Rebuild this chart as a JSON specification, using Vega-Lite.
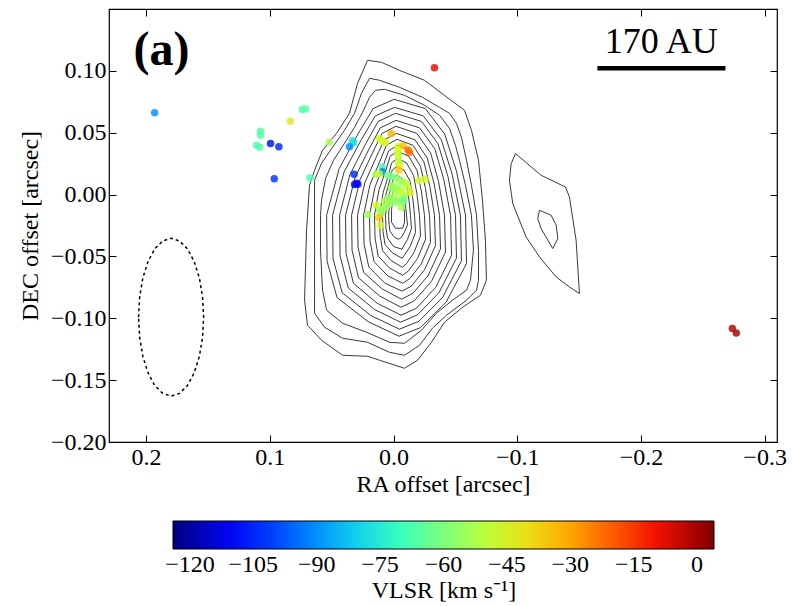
{
"$schema":"https://vega.github.io/schema/vega-lite/v6.json",
"width":668,"height":433,
"autosize":{"type":"none"},
"padding":{"left":109,"top":9,"right":15,"bottom":164},
"background":"white",
"config":{
"view":{"stroke":"black","strokeWidth":1.2},
"font":"Liberation Serif",
"axis":{"labelFont":"Liberation Serif","labelFontSize":24,"labelColor":"black","titleFont":"Liberation Serif","titleFontSize":24,"titleFontWeight":"normal","titleColor":"black","domain":false,"grid":false,"tickColor":"black","tickSize":-7,"tickWidth":1,"labelPadding":10}
},
"datasets":{
"ct":[
{"c":0,"i":0,"x":0.0210,"y":0.1085},{"c":0,"i":1,"x":0.0097,"y":0.1069},{"c":0,"i":2,"x":-0.0048,"y":0.1004},{"c":0,"i":3,"x":-0.0250,"y":0.0924},{"c":0,"i":4,"x":-0.0412,"y":0.0802},{"c":0,"i":5,"x":-0.0574,"y":0.0681},{"c":0,"i":6,"x":-0.0630,"y":0.0520},{"c":0,"i":7,"x":-0.0687,"y":0.0277},{"c":0,"i":8,"x":-0.0719,"y":-0.0046},{"c":0,"i":9,"x":-0.0743,"y":-0.0369},{"c":0,"i":10,"x":-0.0751,"y":-0.0693},{"c":0,"i":11,"x":-0.0703,"y":-0.0814},{"c":0,"i":12,"x":-0.0558,"y":-0.0911},{"c":0,"i":13,"x":-0.0412,"y":-0.1032},{"c":0,"i":14,"x":-0.0307,"y":-0.1194},{"c":0,"i":15,"x":-0.0194,"y":-0.1339},{"c":0,"i":16,"x":-0.0089,"y":-0.1404},{"c":0,"i":17,"x":0.0113,"y":-0.1339},{"c":0,"i":18,"x":0.0210,"y":-0.1307},{"c":0,"i":19,"x":0.0412,"y":-0.1299},{"c":0,"i":20,"x":0.0582,"y":-0.1177},{"c":0,"i":21,"x":0.0695,"y":-0.1056},{"c":0,"i":22,"x":0.0719,"y":-0.0854},{"c":0,"i":23,"x":0.0703,"y":-0.0289},{"c":0,"i":24,"x":0.0679,"y":0.0075},{"c":0,"i":25,"x":0.0638,"y":0.0196},{"c":0,"i":26,"x":0.0574,"y":0.0358},{"c":0,"i":27,"x":0.0461,"y":0.0495},{"c":0,"i":28,"x":0.0356,"y":0.0657},{"c":0,"i":29,"x":0.0291,"y":0.0899},{"c":0,"i":30,"x":0.0210,"y":0.1085},
{"c":1,"i":0,"x":0.0194,"y":0.0940},{"c":1,"i":1,"x":0.0113,"y":0.0924},{"c":1,"i":2,"x":-0.0048,"y":0.0867},{"c":1,"i":3,"x":-0.0234,"y":0.0786},{"c":1,"i":4,"x":-0.0372,"y":0.0705},{"c":1,"i":5,"x":-0.0452,"y":0.0657},{"c":1,"i":6,"x":-0.0509,"y":0.0576},{"c":1,"i":7,"x":-0.0549,"y":0.0463},{"c":1,"i":8,"x":-0.0590,"y":0.0277},{"c":1,"i":9,"x":-0.0630,"y":0.0075},{"c":1,"i":10,"x":-0.0671,"y":-0.0167},{"c":1,"i":11,"x":-0.0687,"y":-0.0450},{"c":1,"i":12,"x":-0.0687,"y":-0.0693},{"c":1,"i":13,"x":-0.0671,"y":-0.0773},{"c":1,"i":14,"x":-0.0590,"y":-0.0854},{"c":1,"i":15,"x":-0.0428,"y":-0.0975},{"c":1,"i":16,"x":-0.0315,"y":-0.1080},{"c":1,"i":17,"x":-0.0210,"y":-0.1218},{"c":1,"i":18,"x":-0.0089,"y":-0.1299},{"c":1,"i":19,"x":0.0032,"y":-0.1275},{"c":1,"i":20,"x":0.0210,"y":-0.1194},{"c":1,"i":21,"x":0.0412,"y":-0.1161},{"c":1,"i":22,"x":0.0558,"y":-0.1072},{"c":1,"i":23,"x":0.0638,"y":-0.0959},{"c":1,"i":24,"x":0.0638,"y":-0.0773},{"c":1,"i":25,"x":0.0638,"y":-0.0450},{"c":1,"i":26,"x":0.0638,"y":0.0116},{"c":1,"i":27,"x":0.0582,"y":0.0253},{"c":1,"i":28,"x":0.0493,"y":0.0382},{"c":1,"i":29,"x":0.0396,"y":0.0520},{"c":1,"i":30,"x":0.0315,"y":0.0657},{"c":1,"i":31,"x":0.0259,"y":0.0819},{"c":1,"i":32,"x":0.0194,"y":0.0940},
{"c":2,"i":0,"x":0.0145,"y":0.0843},{"c":2,"i":1,"x":0.0073,"y":0.0851},{"c":2,"i":2,"x":-0.0089,"y":0.0802},{"c":2,"i":3,"x":-0.0250,"y":0.0722},{"c":2,"i":4,"x":-0.0372,"y":0.0641},{"c":2,"i":5,"x":-0.0452,"y":0.0536},{"c":2,"i":6,"x":-0.0501,"y":0.0398},{"c":2,"i":7,"x":-0.0533,"y":0.0277},{"c":2,"i":8,"x":-0.0582,"y":0.0075},{"c":2,"i":9,"x":-0.0630,"y":-0.0167},{"c":2,"i":10,"x":-0.0646,"y":-0.0450},{"c":2,"i":11,"x":-0.0622,"y":-0.0693},{"c":2,"i":12,"x":-0.0590,"y":-0.0773},{"c":2,"i":13,"x":-0.0477,"y":-0.0854},{"c":2,"i":14,"x":-0.0347,"y":-0.0959},{"c":2,"i":15,"x":-0.0226,"y":-0.1096},{"c":2,"i":16,"x":-0.0089,"y":-0.1202},{"c":2,"i":17,"x":0.0032,"y":-0.1194},{"c":2,"i":18,"x":0.0218,"y":-0.1113},{"c":2,"i":19,"x":0.0412,"y":-0.1040},{"c":2,"i":20,"x":0.0541,"y":-0.0935},{"c":2,"i":21,"x":0.0574,"y":-0.0773},{"c":2,"i":22,"x":0.0590,"y":-0.0450},{"c":2,"i":23,"x":0.0590,"y":-0.0167},{"c":2,"i":24,"x":0.0582,"y":-0.0046},{"c":2,"i":25,"x":0.0549,"y":0.0132},{"c":2,"i":26,"x":0.0485,"y":0.0277},{"c":2,"i":27,"x":0.0396,"y":0.0415},{"c":2,"i":28,"x":0.0315,"y":0.0544},{"c":2,"i":29,"x":0.0250,"y":0.0665},{"c":2,"i":30,"x":0.0194,"y":0.0786},{"c":2,"i":31,"x":0.0145,"y":0.0843},
{"c":3,"i":0,"x":-0.0004,"y":0.0770},{"c":3,"i":1,"x":-0.0257,"y":0.0695},{"c":3,"i":2,"x":-0.0414,"y":0.0489},{"c":3,"i":3,"x":-0.0509,"y":0.0189},{"c":3,"i":4,"x":-0.0582,"y":-0.0167},{"c":3,"i":5,"x":-0.0590,"y":-0.0558},{"c":3,"i":6,"x":-0.0424,"y":-0.0871},{"c":3,"i":7,"x":-0.0217,"y":-0.1076},{"c":3,"i":8,"x":-0.0044,"y":-0.1145},{"c":3,"i":9,"x":0.0204,"y":-0.1028},{"c":3,"i":10,"x":0.0457,"y":-0.0832},{"c":3,"i":11,"x":0.0537,"y":-0.0539},{"c":3,"i":12,"x":0.0541,"y":-0.0167},{"c":3,"i":13,"x":0.0440,"y":0.0208},{"c":3,"i":14,"x":0.0288,"y":0.0489},{"c":3,"i":15,"x":0.0165,"y":0.0695},{"c":3,"i":16,"x":-0.0004,"y":0.0770},
{"c":4,"i":0,"x":-0.0008,"y":0.0705},{"c":4,"i":1,"x":-0.0241,"y":0.0636},{"c":4,"i":2,"x":-0.0386,"y":0.0444},{"c":4,"i":3,"x":-0.0474,"y":0.0164},{"c":4,"i":4,"x":-0.0541,"y":-0.0167},{"c":4,"i":5,"x":-0.0549,"y":-0.0536},{"c":4,"i":6,"x":-0.0397,"y":-0.0831},{"c":4,"i":7,"x":-0.0205,"y":-0.1024},{"c":4,"i":8,"x":-0.0048,"y":-0.1088},{"c":4,"i":9,"x":0.0183,"y":-0.0978},{"c":4,"i":10,"x":0.0415,"y":-0.0793},{"c":4,"i":11,"x":0.0489,"y":-0.0517},{"c":4,"i":12,"x":0.0493,"y":-0.0167},{"c":4,"i":13,"x":0.0400,"y":0.0182},{"c":4,"i":14,"x":0.0260,"y":0.0444},{"c":4,"i":15,"x":0.0147,"y":0.0636},{"c":4,"i":16,"x":-0.0008,"y":0.0705},
{"c":5,"i":0,"x":-0.0016,"y":0.0657},{"c":5,"i":1,"x":-0.0227,"y":0.0591},{"c":5,"i":2,"x":-0.0360,"y":0.0410},{"c":5,"i":3,"x":-0.0440,"y":0.0146},{"c":5,"i":4,"x":-0.0501,"y":-0.0167},{"c":5,"i":5,"x":-0.0509,"y":-0.0513},{"c":5,"i":6,"x":-0.0370,"y":-0.0789},{"c":5,"i":7,"x":-0.0196,"y":-0.0971},{"c":5,"i":8,"x":-0.0057,"y":-0.1032},{"c":5,"i":9,"x":0.0155,"y":-0.0928},{"c":5,"i":10,"x":0.0366,"y":-0.0755},{"c":5,"i":11,"x":0.0432,"y":-0.0496},{"c":5,"i":12,"x":0.0436,"y":-0.0167},{"c":5,"i":13,"x":0.0352,"y":0.0162},{"c":5,"i":14,"x":0.0225,"y":0.0410},{"c":5,"i":15,"x":0.0124,"y":0.0591},{"c":5,"i":16,"x":-0.0016,"y":0.0657},
{"c":6,"i":0,"x":-0.0020,"y":0.0600},{"c":6,"i":1,"x":-0.0211,"y":0.0539},{"c":6,"i":2,"x":-0.0334,"y":0.0370},{"c":6,"i":3,"x":-0.0406,"y":0.0124},{"c":6,"i":4,"x":-0.0461,"y":-0.0167},{"c":6,"i":5,"x":-0.0469,"y":-0.0490},{"c":6,"i":6,"x":-0.0342,"y":-0.0749},{"c":6,"i":7,"x":-0.0185,"y":-0.0919},{"c":6,"i":8,"x":-0.0061,"y":-0.0975},{"c":6,"i":9,"x":0.0133,"y":-0.0878},{"c":6,"i":10,"x":0.0324,"y":-0.0717},{"c":6,"i":11,"x":0.0384,"y":-0.0474},{"c":6,"i":12,"x":0.0388,"y":-0.0167},{"c":6,"i":13,"x":0.0311,"y":0.0140},{"c":6,"i":14,"x":0.0197,"y":0.0370},{"c":6,"i":15,"x":0.0107,"y":0.0539},{"c":6,"i":16,"x":-0.0020,"y":0.0600},
{"c":7,"i":0,"x":-0.0020,"y":0.0552},{"c":7,"i":1,"x":-0.0189,"y":0.0494},{"c":7,"i":2,"x":-0.0300,"y":0.0336},{"c":7,"i":3,"x":-0.0364,"y":0.0106},{"c":7,"i":4,"x":-0.0412,"y":-0.0167},{"c":7,"i":5,"x":-0.0420,"y":-0.0465},{"c":7,"i":6,"x":-0.0307,"y":-0.0702},{"c":7,"i":7,"x":-0.0168,"y":-0.0859},{"c":7,"i":8,"x":-0.0061,"y":-0.0911},{"c":7,"i":9,"x":0.0114,"y":-0.0819},{"c":7,"i":10,"x":0.0283,"y":-0.0673},{"c":7,"i":11,"x":0.0335,"y":-0.0450},{"c":7,"i":12,"x":0.0339,"y":-0.0167},{"c":7,"i":13,"x":0.0271,"y":0.0120},{"c":7,"i":14,"x":0.0170,"y":0.0336},{"c":7,"i":15,"x":0.0093,"y":0.0494},{"c":7,"i":16,"x":-0.0020,"y":0.0552},
{"c":8,"i":0,"x":-0.0024,"y":0.0495},{"c":8,"i":1,"x":-0.0174,"y":0.0442},{"c":8,"i":2,"x":-0.0272,"y":0.0297},{"c":8,"i":3,"x":-0.0329,"y":0.0085},{"c":8,"i":4,"x":-0.0372,"y":-0.0167},{"c":8,"i":5,"x":-0.0380,"y":-0.0439},{"c":8,"i":6,"x":-0.0279,"y":-0.0656},{"c":8,"i":7,"x":-0.0157,"y":-0.0798},{"c":8,"i":8,"x":-0.0065,"y":-0.0846},{"c":8,"i":9,"x":0.0092,"y":-0.0763},{"c":8,"i":10,"x":0.0242,"y":-0.0629},{"c":8,"i":11,"x":0.0287,"y":-0.0425},{"c":8,"i":12,"x":0.0291,"y":-0.0167},{"c":8,"i":13,"x":0.0231,"y":0.0098},{"c":8,"i":14,"x":0.0142,"y":0.0297},{"c":8,"i":15,"x":0.0075,"y":0.0442},{"c":8,"i":16,"x":-0.0024,"y":0.0495},
{"c":9,"i":0,"x":-0.0028,"y":0.0447},{"c":9,"i":1,"x":-0.0158,"y":0.0398},{"c":9,"i":2,"x":-0.0246,"y":0.0263},{"c":9,"i":3,"x":-0.0294,"y":0.0066},{"c":9,"i":4,"x":-0.0331,"y":-0.0167},{"c":9,"i":5,"x":-0.0339,"y":-0.0413},{"c":9,"i":6,"x":-0.0251,"y":-0.0609},{"c":9,"i":7,"x":-0.0145,"y":-0.0739},{"c":9,"i":8,"x":-0.0069,"y":-0.0781},{"c":9,"i":9,"x":0.0070,"y":-0.0716},{"c":9,"i":10,"x":0.0200,"y":-0.0585},{"c":9,"i":11,"x":0.0238,"y":-0.0401},{"c":9,"i":12,"x":0.0242,"y":-0.0167},{"c":9,"i":13,"x":0.0191,"y":0.0078},{"c":9,"i":14,"x":0.0113,"y":0.0263},{"c":9,"i":15,"x":0.0058,"y":0.0398},{"c":9,"i":16,"x":-0.0028,"y":0.0447},
{"c":10,"i":0,"x":-0.0032,"y":0.0398},{"c":10,"i":1,"x":-0.0141,"y":0.0353},{"c":10,"i":2,"x":-0.0218,"y":0.0229},{"c":10,"i":3,"x":-0.0259,"y":0.0048},{"c":10,"i":4,"x":-0.0291,"y":-0.0167},{"c":10,"i":5,"x":-0.0299,"y":-0.0387},{"c":10,"i":6,"x":-0.0223,"y":-0.0563},{"c":10,"i":7,"x":-0.0133,"y":-0.0678},{"c":10,"i":8,"x":-0.0073,"y":-0.0717},{"c":10,"i":9,"x":0.0048,"y":-0.0656},{"c":10,"i":10,"x":0.0158,"y":-0.0541},{"c":10,"i":11,"x":0.0190,"y":-0.0376},{"c":10,"i":12,"x":0.0194,"y":-0.0167},{"c":10,"i":13,"x":0.0150,"y":0.0059},{"c":10,"i":14,"x":0.0085,"y":0.0229},{"c":10,"i":15,"x":0.0040,"y":0.0353},{"c":10,"i":16,"x":-0.0032,"y":0.0398},
{"c":11,"i":0,"x":-0.0032,"y":0.0350},{"c":11,"i":1,"x":-0.0124,"y":0.0309},{"c":11,"i":2,"x":-0.0190,"y":0.0195},{"c":11,"i":3,"x":-0.0225,"y":0.0029},{"c":11,"i":4,"x":-0.0250,"y":-0.0167},{"c":11,"i":5,"x":-0.0259,"y":-0.0361},{"c":11,"i":6,"x":-0.0194,"y":-0.0516},{"c":11,"i":7,"x":-0.0120,"y":-0.0618},{"c":11,"i":8,"x":-0.0073,"y":-0.0652},{"c":11,"i":9,"x":0.0032,"y":-0.0594},{"c":11,"i":10,"x":0.0124,"y":-0.0497},{"c":11,"i":11,"x":0.0149,"y":-0.0351},{"c":11,"i":12,"x":0.0154,"y":-0.0167},{"c":11,"i":13,"x":0.0117,"y":0.0040},{"c":11,"i":14,"x":0.0062,"y":0.0195},{"c":11,"i":15,"x":0.0028,"y":0.0309},{"c":11,"i":16,"x":-0.0032,"y":0.0350},
{"c":12,"i":0,"x":-0.0032,"y":0.0293},{"c":12,"i":1,"x":-0.0105,"y":0.0256},{"c":12,"i":2,"x":-0.0162,"y":0.0155},{"c":12,"i":3,"x":-0.0189,"y":0.0008},{"c":12,"i":4,"x":-0.0210,"y":-0.0167},{"c":12,"i":5,"x":-0.0218,"y":-0.0335},{"c":12,"i":6,"x":-0.0165,"y":-0.0469},{"c":12,"i":7,"x":-0.0105,"y":-0.0558},{"c":12,"i":8,"x":-0.0073,"y":-0.0587},{"c":12,"i":9,"x":0.0016,"y":-0.0537},{"c":12,"i":10,"x":0.0089,"y":-0.0453},{"c":12,"i":11,"x":0.0109,"y":-0.0327},{"c":12,"i":12,"x":0.0113,"y":-0.0167},{"c":12,"i":13,"x":0.0084,"y":0.0017},{"c":12,"i":14,"x":0.0040,"y":0.0155},{"c":12,"i":15,"x":0.0016,"y":0.0256},{"c":12,"i":16,"x":-0.0032,"y":0.0293},
{"c":13,"i":0,"x":-0.0028,"y":0.0229},{"c":13,"i":1,"x":-0.0085,"y":0.0197},{"c":13,"i":2,"x":-0.0133,"y":0.0110},{"c":13,"i":3,"x":-0.0154,"y":-0.0017},{"c":13,"i":4,"x":-0.0170,"y":-0.0167},{"c":13,"i":5,"x":-0.0178,"y":-0.0306},{"c":13,"i":6,"x":-0.0135,"y":-0.0418},{"c":13,"i":7,"x":-0.0088,"y":-0.0490},{"c":13,"i":8,"x":-0.0069,"y":-0.0515},{"c":13,"i":9,"x":0.0006,"y":-0.0473},{"c":13,"i":10,"x":0.0069,"y":-0.0403},{"c":13,"i":11,"x":0.0085,"y":-0.0299},{"c":13,"i":12,"x":0.0089,"y":-0.0167},{"c":13,"i":13,"x":0.0065,"y":-0.0009},{"c":13,"i":14,"x":0.0031,"y":0.0110},{"c":13,"i":15,"x":0.0011,"y":0.0197},{"c":13,"i":16,"x":-0.0028,"y":0.0229},
{"c":14,"i":0,"x":-0.0028,"y":0.0156},{"c":14,"i":1,"x":-0.0070,"y":0.0130},{"c":14,"i":2,"x":-0.0110,"y":0.0059},{"c":14,"i":3,"x":-0.0125,"y":-0.0044},{"c":14,"i":4,"x":-0.0137,"y":-0.0167},{"c":14,"i":5,"x":-0.0145,"y":-0.0277},{"c":14,"i":6,"x":-0.0112,"y":-0.0365},{"c":14,"i":7,"x":-0.0077,"y":-0.0423},{"c":14,"i":8,"x":-0.0069,"y":-0.0442},{"c":14,"i":9,"x":0.0000,"y":-0.0420},{"c":14,"i":10,"x":0.0048,"y":-0.0353},{"c":14,"i":11,"x":0.0061,"y":-0.0272},{"c":14,"i":12,"x":0.0065,"y":-0.0167},{"c":14,"i":13,"x":0.0047,"y":-0.0038},{"c":14,"i":14,"x":0.0019,"y":0.0059},{"c":14,"i":15,"x":0.0002,"y":0.0130},{"c":14,"i":16,"x":-0.0028,"y":0.0156},
{"c":15,"i":0,"x":-0.0024,"y":0.0059},{"c":15,"i":1,"x":-0.0053,"y":0.0041},{"c":15,"i":2,"x":-0.0086,"y":-0.0009},{"c":15,"i":3,"x":-0.0097,"y":-0.0082},{"c":15,"i":4,"x":-0.0105,"y":-0.0167},{"c":15,"i":5,"x":-0.0113,"y":-0.0245},{"c":15,"i":6,"x":-0.0087,"y":-0.0307},{"c":15,"i":7,"x":-0.0063,"y":-0.0347},{"c":15,"i":8,"x":-0.0040,"y":-0.0361},{"c":15,"i":9,"x":-0.0008,"y":-0.0345},{"c":15,"i":10,"x":0.0028,"y":-0.0297},{"c":15,"i":11,"x":0.0036,"y":-0.0240},{"c":15,"i":12,"x":0.0040,"y":-0.0167},{"c":15,"i":13,"x":0.0032,"y":-0.0078},{"c":15,"i":14,"x":0.0012,"y":-0.0010},{"c":15,"i":15,"x":0.0000,"y":0.0041},{"c":15,"i":16,"x":-0.0024,"y":0.0059},
{"c":16,"i":0,"x":0.0008,"y":-0.0046},{"c":16,"i":1,"x":-0.0032,"y":-0.0038},{"c":16,"i":2,"x":-0.0073,"y":-0.0070},{"c":16,"i":3,"x":-0.0089,"y":-0.0143},{"c":16,"i":4,"x":-0.0089,"y":-0.0224},{"c":16,"i":5,"x":-0.0073,"y":-0.0272},{"c":16,"i":6,"x":-0.0016,"y":-0.0272},{"c":16,"i":7,"x":0.0016,"y":-0.0224},{"c":16,"i":8,"x":0.0016,"y":-0.0127},{"c":16,"i":9,"x":0.0008,"y":-0.0046},
{"c":17,"i":0,"x":-0.0986,"y":0.0331},{"c":17,"i":1,"x":-0.1193,"y":0.0156},{"c":17,"i":2,"x":-0.1390,"y":0.0061},{"c":17,"i":3,"x":-0.1422,"y":-0.0019},{"c":17,"i":4,"x":-0.1476,"y":-0.0369},{"c":17,"i":5,"x":-0.1503,"y":-0.0800},{"c":17,"i":6,"x":-0.1422,"y":-0.0747},{"c":17,"i":7,"x":-0.1315,"y":-0.0666},{"c":17,"i":8,"x":-0.1180,"y":-0.0504},{"c":17,"i":9,"x":-0.1072,"y":-0.0343},{"c":17,"i":10,"x":-0.0964,"y":-0.0073},{"c":17,"i":11,"x":-0.0937,"y":0.0116},{"c":17,"i":12,"x":-0.0951,"y":0.0250},{"c":17,"i":13,"x":-0.0986,"y":0.0331},
{"c":18,"i":0,"x":-0.1180,"y":-0.0127},{"c":18,"i":1,"x":-0.1274,"y":-0.0167},{"c":18,"i":2,"x":-0.1315,"y":-0.0248},{"c":18,"i":3,"x":-0.1328,"y":-0.0356},{"c":18,"i":4,"x":-0.1287,"y":-0.0436},{"c":18,"i":5,"x":-0.1193,"y":-0.0275},{"c":18,"i":6,"x":-0.1166,"y":-0.0194},{"c":18,"i":7,"x":-0.1180,"y":-0.0127}
],
"el":[
{"i":0,"x":0.2061,"y":-0.0991},{"i":1,"x":0.2052,"y":-0.0826},{"i":2,"x":0.2026,"y":-0.0672},{"i":3,"x":0.1984,"y":-0.0540},{"i":4,"x":0.1930,"y":-0.0438},{"i":5,"x":0.1866,"y":-0.0375},{"i":6,"x":0.1798,"y":-0.0353},{"i":7,"x":0.1730,"y":-0.0375},{"i":8,"x":0.1666,"y":-0.0438},{"i":9,"x":0.1612,"y":-0.0540},{"i":10,"x":0.1570,"y":-0.0672},{"i":11,"x":0.1544,"y":-0.0826},{"i":12,"x":0.1535,"y":-0.0991},{"i":13,"x":0.1544,"y":-0.1156},{"i":14,"x":0.1570,"y":-0.1310},{"i":15,"x":0.1612,"y":-0.1442},{"i":16,"x":0.1666,"y":-0.1544},{"i":17,"x":0.1730,"y":-0.1607},{"i":18,"x":0.1798,"y":-0.1629},{"i":19,"x":0.1866,"y":-0.1607},{"i":20,"x":0.1930,"y":-0.1544},{"i":21,"x":0.1984,"y":-0.1442},{"i":22,"x":0.2026,"y":-0.1310},{"i":23,"x":0.2052,"y":-0.1156},{"i":24,"x":0.2061,"y":-0.0991}
],
"pts":[
{"x":0.1931,"y":0.0661,"v":-90},{"x":-0.0331,"y":0.1025,"v":-8},{"x":-0.2739,"y":-0.1083,"v":-1},{"x":-0.2771,"y":-0.1118,"v":0},
{"x":0.1075,"y":0.0511,"v":-67},{"x":0.1075,"y":0.0479,"v":-67},{"x":0.1107,"y":0.0398,"v":-66},{"x":0.1083,"y":0.0382,"v":-68},
{"x":0.0994,"y":0.0412,"v":-108},{"x":0.0927,"y":0.0386,"v":-105},{"x":0.0964,"y":0.0128,"v":-103},{"x":0.0835,"y":0.0592,"v":-43},
{"x":0.0738,"y":0.0687,"v":-67},{"x":0.0711,"y":0.0692,"v":-66},{"x":0.0521,"y":0.0423,"v":-53},{"x":0.0675,"y":0.0134,"v":-68},
{"x":0.0331,"y":0.0435,"v":-77},{"x":0.0323,"y":0.0419,"v":-78},{"x":0.0356,"y":0.0386,"v":-90},{"x":0.0319,"y":0.0164,"v":-104},
{"x":0.0315,"y":0.0082,"v":-110},{"x":0.0288,"y":0.0083,"v":-108},{"x":0.0299,"y":0.0091,"v":-110},
{"x":0.0019,"y":0.0493,"v":-32},{"x":0.0113,"y":0.0452,"v":-45},{"x":0.0091,"y":0.0439,"v":-44},{"x":0.0065,"y":0.0420,"v":-45},{"x":0.0085,"y":0.0427,"v":-46},
{"x":-0.0036,"y":0.0386,"v":-46},{"x":-0.0075,"y":0.0394,"v":-33},{"x":-0.0116,"y":0.0362,"v":-24},{"x":-0.0129,"y":0.0342,"v":-22},
{"x":-0.0035,"y":0.0362,"v":-45},{"x":-0.0036,"y":0.0334,"v":-48},{"x":-0.0040,"y":0.0304,"v":-48},{"x":-0.0040,"y":0.0263,"v":-50},
{"x":-0.0048,"y":0.0237,"v":-44},{"x":-0.0043,"y":0.0196,"v":-35},{"x":0.0091,"y":0.0223,"v":-68},{"x":0.0089,"y":0.0184,"v":-92},
{"x":0.0140,"y":0.0164,"v":-52},{"x":0.0117,"y":0.0168,"v":-50},{"x":0.0046,"y":0.0156,"v":-60},{"x":0.0019,"y":0.0148,"v":-62},
{"x":-0.0022,"y":0.0137,"v":-60},{"x":-0.0048,"y":0.0116,"v":-56},{"x":-0.0075,"y":0.0102,"v":-54},{"x":-0.0103,"y":0.0089,"v":-50},
{"x":-0.0204,"y":0.0116,"v":-46},{"x":-0.0256,"y":0.0124,"v":-45},{"x":-0.0116,"y":0.0057,"v":-50},{"x":-0.0137,"y":0.0016,"v":-44},
{"x":-0.0022,"y":0.0035,"v":-56},{"x":-0.0008,"y":-0.0006,"v":-52},{"x":0.0006,"y":-0.0046,"v":-55},{"x":0.0032,"y":-0.0073,"v":-53},
{"x":0.0059,"y":-0.0095,"v":-58},{"x":0.0086,"y":-0.0113,"v":-54},{"x":0.0113,"y":-0.0127,"v":-56},{"x":0.0140,"y":-0.0086,"v":-46},
{"x":0.0099,"y":-0.0154,"v":-55},{"x":-0.0075,"y":-0.0032,"v":-68},{"x":-0.0062,"y":-0.0100,"v":-52},{"x":-0.0048,"y":-0.0046,"v":-52},
{"x":-0.0089,"y":-0.0006,"v":-55},{"x":0.0016,"y":0.0051,"v":-56},{"x":0.0208,"y":-0.0162,"v":-55},{"x":0.0121,"y":-0.0186,"v":-36},
{"x":0.0107,"y":-0.0248,"v":-46},{"x":0.0008,"y":0.0075,"v":-56},{"x":-0.0032,"y":0.0059,"v":-54},{"x":-0.0057,"y":0.0035,"v":-52},
{"x":0.0040,"y":-0.0022,"v":-57},{"x":0.0073,"y":-0.0054,"v":-53},{"x":-0.0016,"y":-0.0062,"v":-58},{"x":-0.0065,"y":0.0019,"v":-48},
{"x":-0.0081,"y":-0.0054,"v":-62}
],
"one":[{}]
},
"layer":[
{"data":{"name":"ct"},"mark":{"type":"line","stroke":"#3a3a3a","strokeWidth":1},
"encoding":{
"x":{"field":"x","type":"quantitative","scale":{"domain":[-0.31,0.23],"reverse":true,"nice":false,"zero":false},"axis":{"orient":"bottom","values":[0.2,0.1,0,-0.1,-0.2,-0.3],"format":".1f","title":"RA offset [arcsec]","titlePadding":3}},
"y":{"field":"y","type":"quantitative","scale":{"domain":[-0.2,0.15],"nice":false,"zero":false},"axis":{"orient":"left","values":[-0.2,-0.15,-0.1,-0.05,0,0.05,0.1],"format":".2f","title":"DEC offset [arcsec]","titlePadding":8}},
"detail":{"field":"c","type":"nominal"},
"order":{"field":"i","type":"quantitative"}}},
{"data":{"name":"el"},"mark":{"type":"line","stroke":"black","strokeWidth":1.5,"strokeDash":[3,3]},
"encoding":{
"x":{"field":"x","type":"quantitative","scale":{"domain":[-0.31,0.23],"reverse":true,"nice":false,"zero":false},"axis":{"orient":"top","values":[0.2,0.1,0,-0.1,-0.2,-0.3],"labels":false,"title":null}},
"y":{"field":"y","type":"quantitative","scale":{"domain":[-0.2,0.15],"nice":false,"zero":false},"axis":{"orient":"right","values":[-0.2,-0.15,-0.1,-0.05,0,0.05,0.1],"labels":false,"title":null}},
"order":{"field":"i","type":"quantitative"}}},
{"data":{"name":"one"},"mark":{"type":"rule","stroke":"black","strokeWidth":4.5},
"encoding":{
"x":{"datum":-0.1648,"type":"quantitative","scale":{"domain":[-0.31,0.23],"reverse":true,"nice":false,"zero":false},"axis":null},
"x2":{"datum":-0.2683},
"y":{"datum":0.1021,"type":"quantitative","scale":{"domain":[-0.2,0.15],"nice":false,"zero":false},"axis":null}}},
{"data":{"name":"one"},"mark":{"type":"text","text":"170 AU","font":"Liberation Serif","fontSize":36,"align":"center","baseline":"alphabetic","color":"black"},
"encoding":{
"x":{"datum":-0.2165,"type":"quantitative","scale":{"domain":[-0.31,0.23],"reverse":true,"nice":false,"zero":false},"axis":null},
"y":{"datum":0.1142,"type":"quantitative","scale":{"domain":[-0.2,0.15],"nice":false,"zero":false},"axis":null}}},
{"data":{"name":"one"},"mark":{"type":"text","text":"(a)","font":"Liberation Serif","fontSize":48,"fontWeight":"bold","align":"center","baseline":"alphabetic","color":"black"},
"encoding":{
"x":{"datum":0.1875,"type":"quantitative","scale":{"domain":[-0.31,0.23],"reverse":true,"nice":false,"zero":false},"axis":null},
"y":{"datum":0.1045,"type":"quantitative","scale":{"domain":[-0.2,0.15],"nice":false,"zero":false},"axis":null}}},
{"data":{"name":"pts"},"mark":{"type":"circle","size":56,"fillOpacity":0.82},
"encoding":{
"x":{"field":"x","type":"quantitative","scale":{"domain":[-0.31,0.23],"reverse":true,"nice":false,"zero":false},"axis":null},
"y":{"field":"y","type":"quantitative","scale":{"domain":[-0.2,0.15],"nice":false,"zero":false},"axis":null},
"color":{"field":"v","type":"quantitative",
"scale":{"domain":[-124,-111.2,-98.4,-85.6,-72.8,-60,-47.2,-34.4,-21.6,-8.8,4],"range":["#000080","#0000f3","#004dff","#00b3ff","#29ffce","#7bff7b","#ceff29","#ffc600","#ff6800","#f30900","#800000"],"interpolate":"rgb"},
"legend":{"orient":"none","legendX":64,"legendY":512,"direction":"horizontal","gradientLength":541,"gradientThickness":28,"gradientStrokeColor":"black","gradientStrokeWidth":1,"gradientOpacity":1,"values":[-120,-105,-90,-75,-60,-45,-30,-15,0],"format":"d","labelFont":"Liberation Serif","labelFontSize":24,"labelColor":"black","labelOffset":4,"title":"VLSR [km s⁻¹]","titleOrient":"bottom","titleAnchor":"middle","titleFont":"Liberation Serif","titleFontSize":24,"titleFontWeight":"normal","titleColor":"black","titlePadding":2,"padding":0,"offset":0,
"encode":{"gradient":{"update":{"opacity":{"value":1},"fillOpacity":{"value":1}}}}}}}}
],
"resolve":{"axis":{"x":"independent","y":"independent"}}
}
